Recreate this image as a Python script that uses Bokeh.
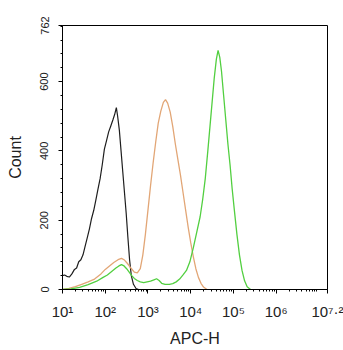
import math
from bokeh.plotting import figure
from bokeh.models import FixedTicker, Range1d
from bokeh.embed import file_html
from bokeh.resources import INLINE

# x values are log10(APC-H); y values are counts
black_x = [1.00, 1.05, 1.10, 1.16, 1.22, 1.28, 1.33, 1.38, 1.43, 1.48, 1.53, 1.58, 1.63, 1.68,
           1.73, 1.78, 1.83, 1.88, 1.93, 1.98, 2.03, 2.08, 2.13, 2.18, 2.22, 2.26, 2.29, 2.33,
           2.37, 2.41, 2.45, 2.49, 2.53, 2.57, 2.61, 2.66, 2.72, 2.78]
black_count = [40, 42, 38, 36, 45, 58, 62, 80, 86, 100, 125, 150, 175, 205,
               228, 258, 290, 320, 360, 405, 430, 455, 472, 490, 505, 525, 500, 460,
               400, 340, 280, 220, 150, 85, 40, 15, 3, 0]

orange_x = [1.00, 1.15, 1.30, 1.45, 1.60, 1.75, 1.90, 2.00, 2.10, 2.20, 2.30, 2.38, 2.45, 2.52,
            2.60, 2.68, 2.75, 2.82, 2.88, 2.94, 3.00, 3.06, 3.12, 3.18, 3.24, 3.30, 3.36, 3.41,
            3.46, 3.52, 3.58, 3.64, 3.70, 3.76, 3.82, 3.88, 3.94, 4.00, 4.06, 4.12, 4.18, 4.24,
            4.30, 4.38]
orange_count = [0, 3, 8, 15, 22, 30, 45, 58, 68, 78, 86, 90, 85, 75,
                62, 50, 48, 60, 100, 160, 230, 300, 365, 425, 480, 515, 540, 548,
                538, 512, 470, 420, 375, 330, 280, 230, 180, 135, 95, 60, 35, 18,
                7, 0]

green_x = [1.00, 1.20, 1.40, 1.60, 1.80, 1.95, 2.05, 2.15, 2.25, 2.32, 2.38, 2.44, 2.50, 2.56,
           2.62, 2.68, 2.75, 2.82, 2.90, 2.98, 3.06, 3.14, 3.20, 3.26, 3.32, 3.40, 3.50, 3.58,
           3.66, 3.74, 3.82, 3.90, 3.98, 4.06, 4.14, 4.22, 4.28, 4.34, 4.40, 4.45, 4.50, 4.55,
           4.60, 4.64, 4.68, 4.72, 4.77, 4.82, 4.87, 4.92, 4.97, 5.02, 5.08, 5.14, 5.20, 5.26,
           5.32, 5.40]
green_count = [0, 2, 6, 14, 24, 35, 42, 52, 62, 68, 72, 68, 60, 50,
               40, 32, 26, 22, 20, 22, 24, 28, 31, 26, 18, 15, 15, 17,
               22, 30, 42, 55, 80, 120, 165, 210, 260, 320, 400, 470, 540, 610,
               665, 690, 670, 630, 560, 490, 420, 360, 290, 230, 160, 100, 55, 25,
               8, 0]

x_ticks = [1, 2, 3, 4, 5, 6, 7.2]
x_tick_labels = ["10\u00b9", "10\u00b2", "10\u00b3", "10\u2074", "10\u2075", "10\u2076",
                 "10\u2077\u00b7\u00b2"]
y_ticks = [0, 200, 400, 600, 762]

FONT = "Liberation Sans"

p = figure(width=343, height=350, output_backend="svg", toolbar_location=None,
           x_range=Range1d(1, 7.2), y_range=Range1d(0, 762),
           min_border_left=62, min_border_right=16, min_border_top=25, min_border_bottom=61,
           background_fill_color="white", border_fill_color="white")
p.grid.visible = False
p.outline_line_color = "black"
p.outline_line_width = 1

p.line(black_x, black_count, line_color="#1e1e1e", line_width=1.2)
p.line(orange_x, orange_count, line_color="#e2a676", line_width=1.3)
p.line(green_x, green_count, line_color="#52cf40", line_width=1.3)

minor_x = [d + math.log10(k) for d in range(1, 7) for k in range(2, 10)]
p.xaxis.ticker = FixedTicker(ticks=x_ticks, minor_ticks=minor_x)
p.yaxis.ticker = FixedTicker(ticks=y_ticks, minor_ticks=list(range(40, 762, 40)))

for ax in (p.xaxis[0], p.yaxis[0]):
    ax.axis_line_color = "black"
    ax.major_tick_line_color = "black"
    ax.minor_tick_line_color = "black"
    ax.major_tick_in = 0
    ax.major_tick_out = 4
    ax.minor_tick_in = 0
    ax.minor_tick_out = 2
    ax.major_label_text_font = FONT
    ax.axis_label_text_font = FONT
    ax.axis_label_text_font_style = "normal"
    ax.axis_label_text_color = "#222222"
    ax.major_label_text_color = "#222222"

p.yaxis.major_label_orientation = "vertical"
p.yaxis.major_label_text_font_size = "11px"
p.yaxis.major_label_standoff = 10
p.yaxis.axis_label = "Count"
p.yaxis.axis_label_text_font_size = "16px"
p.yaxis.axis_label_standoff = 14

p.xaxis.major_label_overrides = dict(zip(x_ticks, x_tick_labels))
p.xaxis.major_label_text_font_size = "15px"
p.xaxis.major_label_standoff = 9
p.xaxis.axis_label = "APC-H"
p.xaxis.axis_label_text_font_size = "16px"
p.xaxis.axis_label_standoff = 7

open("out.html", "w").write(file_html(p, INLINE))
